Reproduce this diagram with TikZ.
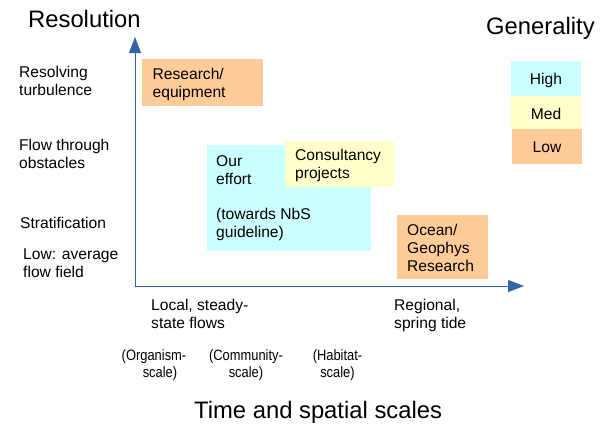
\documentclass[tikz,border=0pt]{standalone}
\usepackage{fontspec}
\setmainfont{Liberation Sans}
\newfontfamily\narrowfont{Liberation Sans}[FakeStretch=0.86]
\usetikzlibrary{arrows.meta}
\definecolor{axisblue}{HTML}{3465A4}
\definecolor{peach}{HTML}{FFCC99}
\definecolor{paleyellow}{HTML}{FFFFCC}
\definecolor{palecyan}{HTML}{CCFFFF}
\begin{document}
\begin{tikzpicture}[x=1pt,y=-1pt,
  txt/.style={inner sep=0pt,anchor=base west,align=left,font=\fontsize{15.6}{18}\selectfont},
  small/.style={inner sep=0pt,anchor=base,align=center,font=\narrowfont\fontsize{15}{17}\selectfont},
  big/.style={inner sep=0pt,anchor=base west,font=\fontsize{23.8}{28}\selectfont},
  box/.style={inner sep=0pt,anchor=north west,draw=none},
  axis/.style={draw=axisblue,line width=1pt,-{Triangle[length=16pt,width=12pt]}}]
\useasboundingbox (0,0) rectangle (600,429);
\fill[white] (0,0) rectangle (600,429);
% boxes
\node[box,fill=peach,minimum width=121pt,minimum height=47pt] (rbox) at (142,59) {};
\node[box,fill=palecyan,minimum width=164pt,minimum height=106pt] (obox) at (207,145) {};
\node[box,fill=paleyellow,minimum width=109pt,minimum height=46pt] (cbox) at (285,141) {};
\node[box,fill=peach,minimum width=91pt,minimum height=64pt] (gbox) at (397,215) {};
\node[box,fill=palecyan,minimum width=70pt,minimum height=35pt] (hbox) at (511,61) {};
\node[box,fill=paleyellow,minimum width=70pt,minimum height=33pt] (mbox) at (511,96) {};
\node[box,fill=peach,minimum width=70pt,minimum height=35pt] (lbox) at (512,129) {};
% axes
\coordinate (origin) at (135,286);
\coordinate (ytip) at (135,37);
\coordinate (xtip) at (524,286);
\draw[axis] (origin) -- (ytip);
\draw[axis] (origin) -- (xtip);
% titles
\node[big] (tres) at (28,27) {Resolution};
\node[big] (tgen) at (486,34) {Generality};
\node[big] (ttime) at (194,418) {Time and spatial scales};
% box texts (base = baseline of last line)
\node[txt] (rtxt) at (152.5,97) {Research/\\equipment};
\node[txt] (otxt) at (216,237) {Our\\effort\\[17pt](towards NbS\\guideline)};
\node[txt] (ctxt) at (295,178) {Consultancy\\projects};
\node[txt] (gtxt) at (407,271) {Ocean/\\Geophys\\Research};
\node[txt,anchor=base] (htxt) at (546,84) {High};
\node[txt,anchor=base] (mtxt) at (546,119) {Med};
\node[txt,anchor=base] (ltxt) at (547,152) {Low};
% left labels
\node[txt] (l1) at (19,95) {Resolving\\turbulence};
\node[txt] (l2) at (19,168) {Flow through\\obstacles};
\node[txt] (l3) at (20,228) {Stratification};
\node[txt] (l4) at (23,277) {Low: average\\flow field};
% bottom labels
\node[txt] (b1) at (151,328) {Local, steady-\\state flows};
\node[txt] (b2) at (394,328) {Regional,\\spring tide};
\node[small] (s1a) at (154,360) {(Organism-};
\node[small] (s1b) at (160,377) {scale)};
\node[small] (s2) at (246,377) {(Community-\\scale)};
\node[small] (s3) at (337.5,377) {(Habitat-\\scale)};
\end{tikzpicture}
\end{document}
